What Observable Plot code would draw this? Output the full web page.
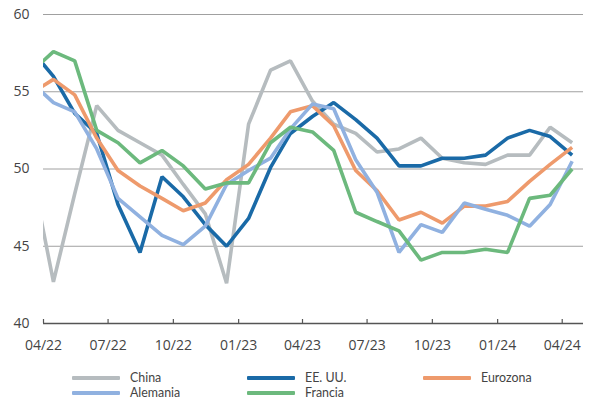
<!DOCTYPE html>
<html>
<head>
<meta charset="utf-8">
<script src="https://cdn.jsdelivr.net/npm/d3@7"></script>
<script src="https://cdn.jsdelivr.net/npm/@observablehq/plot@0.6"></script>
<style>
  body { margin: 0; background: #fff; font-family: "Open Sans", sans-serif; }
  #chart { position: relative; width: 592px; height: 400px; }
  #chart svg { display: block; }
  .legend {
    position: absolute;
    left: 72px;
    top: 370px;
    display: grid;
    grid-template-columns: 175px 176px 176px;
    grid-auto-rows: 15px;
    font-family: Lato, "Open Sans", sans-serif;
    font-size: 12.4px;
    line-height: 15px;
    color: #444;
  }
  .legend .item { display: flex; align-items: center; white-space: nowrap; height: 15px; }
  .legend .swatch { width: 48px; height: 4px; margin-right: 10px; border-radius: 1px; flex: none; }
</style>
</head>
<body>
<div id="chart"></div>
<script>
// Composite PMI, monthly readings from 03/22 to 04/24
const seriesNames = ["China", "EE. UU.", "Eurozona", "Alemania", "Francia"];
const seriesColors = ["#b6bcbf", "#1a6aa7", "#ee9a6c", "#90b1e0", "#6cb97d"];

const china    = [49.9, 42.7, 48.4, 54.1, 52.5, 51.7, 50.9, 49.0, 47.1, 42.6, 52.9, 56.4, 57.0, 54.4, 52.9, 52.3, 51.1, 51.3, 52.0, 50.7, 50.4, 50.3, 50.9, 50.9, 52.7, 51.7];
const eeuu     = [57.7, 56.0, 53.6, 52.3, 47.7, 44.6, 49.5, 48.2, 46.4, 45.0, 46.8, 50.1, 52.3, 53.4, 54.3, 53.2, 52.0, 50.2, 50.2, 50.7, 50.7, 50.9, 52.0, 52.5, 52.1, 50.9];
const eurozona = [54.9, 55.8, 54.8, 52.0, 49.9, 48.9, 48.1, 47.3, 47.8, 49.3, 50.3, 52.0, 53.7, 54.1, 52.8, 49.9, 48.6, 46.7, 47.2, 46.5, 47.6, 47.6, 47.9, 49.2, 50.3, 51.4];
const alemania = [55.6, 54.3, 53.7, 51.3, 48.1, 46.9, 45.7, 45.1, 46.3, 49.0, 49.9, 50.7, 52.6, 54.2, 53.9, 50.6, 48.5, 44.6, 46.4, 45.9, 47.8, 47.4, 47.0, 46.3, 47.7, 50.5];
const francia  = [56.3, 57.6, 57.0, 52.5, 51.7, 50.4, 51.2, 50.2, 48.7, 49.1, 49.1, 51.7, 52.7, 52.4, 51.2, 47.2, 46.6, 46.0, 44.1, 44.6, 44.6, 44.8, 44.6, 48.1, 48.3, 50.0];

const yTicks = [40, 45, 50, 55, 60];
const xTickLabels = ["04/22", "07/22", "10/22", "01/23", "04/23", "07/23", "10/23", "01/24", "04/24"];

const parseMonth = d3.utcParse("%m/%y");
const firstMonth = new Date(Date.UTC(2022, 2, 1));
const months = d3.utcMonth.range(firstMonth, d3.utcMonth.offset(firstMonth, china.length));
const xTicks = xTickLabels.map(parseMonth);
const xDomain = [xTicks[0], d3.utcMonth.offset(xTicks[xTicks.length - 1], 1)];

// each reading sits in the middle of its month
const allSeries = [china, eeuu, eurozona, alemania, francia];
const rows = allSeries.flatMap((values, i) =>
  values.map((value, j) => ({
    serie: seriesNames[i],
    date: d3.utcDay.offset(months[j], 14),
    value
  }))
);

const chart = Plot.plot({
  width: 592,
  height: 360,
  marginLeft: 43,
  marginRight: 9,
  marginTop: 14,
  marginBottom: 37,
  style: { fontFamily: "Open Sans, sans-serif", fontSize: "14px", color: "#444", background: "#fff" },
  x: { type: "utc", domain: xDomain },
  y: { domain: [40, 60] },
  color: { domain: seriesNames, range: seriesColors },
  marks: [
    Plot.gridY(yTicks.slice(1), { stroke: "#a0a0a0", strokeOpacity: 1, strokeWidth: 1 }),
    Plot.axisY({ ticks: yTicks, tickSize: 0, tickPadding: 14, label: null }),
    Plot.axisX({ ticks: xTicks, tickSize: 0, tickPadding: 17, tickFormat: d3.utcFormat("%m/%y"), label: null }),
    Plot.lineY(rows, {
      x: "date", y: "value", z: "serie", stroke: "serie",
      strokeWidth: 3.6, strokeLinejoin: "miter", strokeLinecap: "butt", clip: true
    }),
    Plot.ruleY([40], { stroke: "#555", strokeWidth: 1.4 }),
    Plot.axisX({ ticks: xTicks, tickSize: -4, tickFormat: () => "", label: null, stroke: "#555", strokeWidth: 1.2 })
  ]
});

const root = document.getElementById("chart");
root.appendChild(chart);

const legend = document.createElement("div");
legend.className = "legend";
seriesNames.forEach((name, i) => {
  const item = document.createElement("div");
  item.className = "item";
  const sw = document.createElement("span");
  sw.className = "swatch";
  sw.style.background = seriesColors[i];
  const label = document.createElement("span");
  label.textContent = name;
  item.append(sw, label);
  legend.appendChild(item);
});
root.appendChild(legend);
</script>
</body>
</html>
